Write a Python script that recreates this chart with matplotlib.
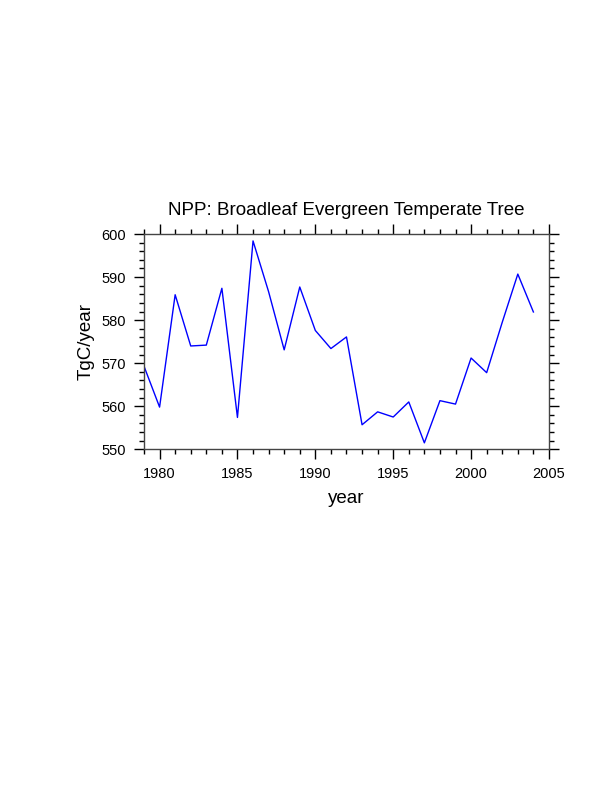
import numpy as np
import matplotlib
matplotlib.use("Agg")
import matplotlib.pyplot as plt
from matplotlib.ticker import MultipleLocator

plt.rcParams['font.family'] = ['Liberation Sans', 'DejaVu Sans']

# data
years = list(range(1979, 2005))
npp = [569.3, 559.8, 585.9, 574.0, 574.2, 587.4, 557.4, 598.4, 586.6, 573.1,
       587.7, 577.6, 573.4, 576.1, 555.7, 558.7, 557.5, 561.0, 551.5, 561.3,
       560.5, 571.2, 567.8, 579.5, 590.7, 581.9]

fig = plt.figure(figsize=(6.12, 7.92), dpi=100)
ax = fig.add_axes([0.2353, 0.4327, 0.6617, 0.2718])

ax.plot(years, npp, color='blue', linewidth=1.0)

ax.set_xlim(1979, 2005)
ax.set_ylim(550, 600)
ax.xaxis.set_major_locator(MultipleLocator(5))
ax.xaxis.set_minor_locator(MultipleLocator(1))
ax.yaxis.set_major_locator(MultipleLocator(10))
ax.yaxis.set_minor_locator(MultipleLocator(2))

ax.tick_params(which='both', direction='out', top=True, right=True,
               labelsize=10.5, width=1.0)
ax.tick_params(which='major', length=7, pad=6)
ax.tick_params(which='minor', length=3.5)
for s in ax.spines.values():
    s.set_linewidth(1.0)
    s.set_color('#444444')

ax.set_title("NPP: Broadleaf Evergreen Temperate Tree", fontsize=13.5, pad=14)
ax.set_xlabel("year", fontsize=13.5, labelpad=6)
ax.set_ylabel("TgC/year", fontsize=13.5, labelpad=5)

fig.savefig("out.png", dpi=100)
